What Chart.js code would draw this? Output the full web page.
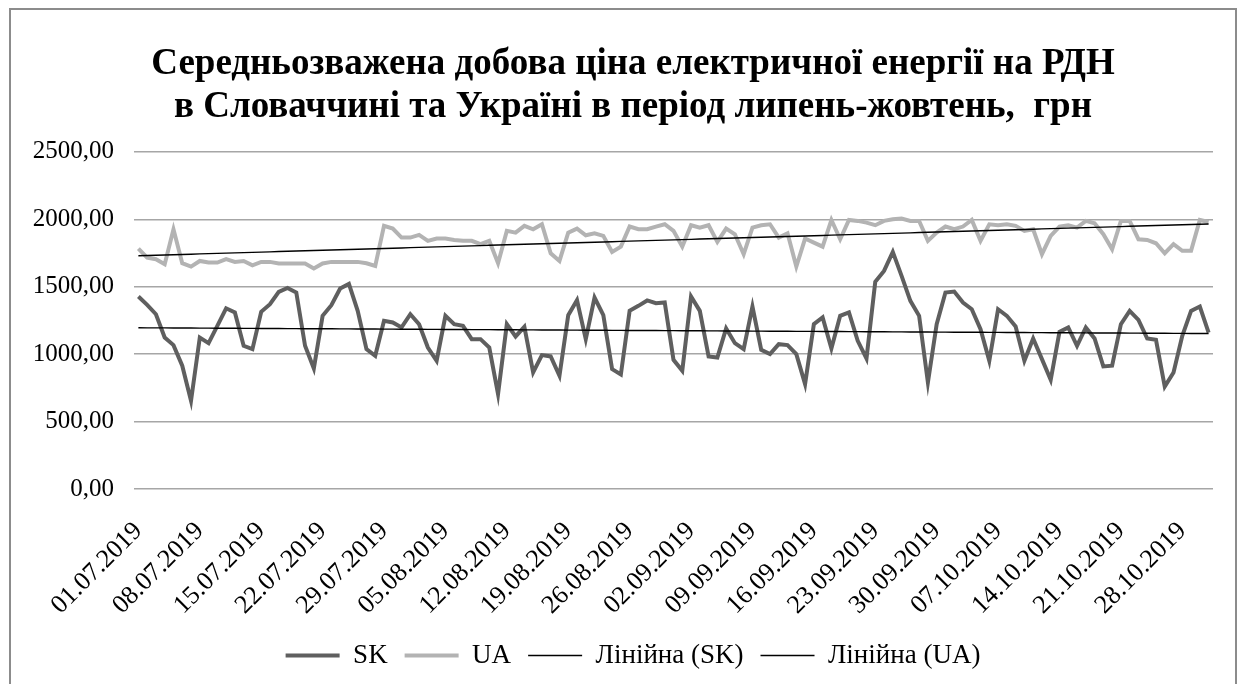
<!DOCTYPE html>
<html lang="uk">
<head>
<meta charset="utf-8">
<title>Середньозважена добова ціна електричної енергії на РДН</title>
<script src="https://cdn.jsdelivr.net/npm/chart.js@4.4.1/dist/chart.umd.min.js"></script>
<style>
  html, body { margin: 0; padding: 0; background: #fff; }
  #wrap { position: relative; width: 1246px; height: 684px; overflow: hidden; }
  #frame {
    position: absolute; left: 9px; top: 8px; width: 1228px; height: 700px;
    border: 2px solid #8c8c8c; box-sizing: border-box; pointer-events: none;
  }
  canvas { position: absolute; left: 0; top: 0; }
</style>
</head>
<body>
<div id="wrap">
  <canvas id="priceChart" width="1246" height="684"></canvas>
  <div id="frame"></div>
</div>
<script>
// ===== DATA =====
const MONTHS = [['07', 31], ['08', 31], ['09', 30], ['10', 31]];
const TITLE = [
  'Середньозважена добова ціна електричної енергії на РДН',
  'в Словаччині та Україні в період липень-жовтень,  грн'
];

// SK, грн
const skValues = [
  1427, 1365, 1296, 1123, 1067, 914, 654, 1123, 1081, 1210, 1340, 1309, 1062, 1037, 1314, 1370,
  1462, 1491, 1457, 1062, 894, 1284, 1363, 1486, 1521, 1321, 1037, 988, 1247, 1235, 1198,
  1296, 1222, 1049, 951, 1284, 1222, 1210, 1111, 1111, 1049, 704, 1222, 1131, 1202, 864,
  993, 983, 840, 1289, 1400, 1111, 1420, 1289, 889, 849, 1321, 1358, 1398, 1378, 1383,
  958, 877, 1427, 1321, 983, 975, 1190, 1081, 1037, 1353, 1032, 1000, 1074, 1067, 1000, 778,
  1222, 1272, 1042, 1284, 1309, 1099, 968, 1536, 1617, 1758, 1580, 1395, 1284, 790,
  1222, 1457, 1464, 1383, 1333, 1185, 951, 1333, 1284, 1205, 951, 1116, 963, 810, 1165,
  1198, 1062, 1198, 1116, 909, 914, 1222, 1321, 1254, 1116, 1106, 760, 864, 1136, 1321, 1353, 1160
];

// UA, грн
const uaValues = [
  1783, 1716, 1704, 1667, 1926, 1674, 1649, 1691, 1679, 1679, 1704, 1684, 1691, 1659, 1684, 1684,
  1672, 1672, 1672, 1672, 1635, 1672, 1684, 1684, 1684, 1684, 1674, 1654, 1951, 1931, 1864,
  1864, 1884, 1840, 1857, 1857, 1847, 1840, 1840, 1815, 1840, 1674, 1914, 1901, 1951, 1926,
  1963, 1748, 1691, 1901, 1931, 1881, 1896, 1877, 1758, 1797, 1946, 1926, 1926, 1946, 1963,
  1914, 1797, 1956, 1938, 1956, 1832, 1931, 1889, 1741, 1938, 1956, 1963, 1864, 1896, 1649, 1857,
  1827, 1797, 1995, 1852, 1995, 1988, 1975, 1956, 1988, 2000, 2005, 1988, 1988, 1840,
  1901, 1946, 1926, 1946, 1995, 1840, 1963, 1956, 1963, 1951, 1914, 1926, 1741, 1877, 1946,
  1956, 1938, 1988, 1970, 1889, 1778, 1988, 1988, 1852, 1847, 1822, 1748, 1815, 1766, 1766, 1995, 1980
];

const yTicks = [0, 500, 1000, 1500, 2000, 2500];

// daily categories 01.07.2019 .. 31.10.2019
const dayLabels = [];
MONTHS.forEach(([m, n]) => {
  for (let d = 1; d <= n; d++) dayLabels.push(String(d).padStart(2, '0') + '.' + m + '.2019');
});

// least-squares trend, like Excel's "Лінійна" trendline
function linearTrend(vals) {
  const n = vals.length;
  let sx = 0, sy = 0, sxx = 0, sxy = 0;
  vals.forEach((y, i) => { sx += i; sy += y; sxx += i * i; sxy += i * y; });
  const b = (n * sxy - sx * sy) / (n * sxx - sx * sx);
  const a = (sy - b * sx) / n;
  return vals.map((_, i) => a + b * i);
}

const FONT = "'Liberation Serif', 'Times New Roman', serif";
const fmt = v => v.toFixed(2).replace('.', ',');

new Chart(document.getElementById('priceChart'), {
  type: 'line',
  data: {
    labels: dayLabels,
    datasets: [
      { label: 'SK', data: skValues, borderColor: '#5f5f5f', borderWidth: 4, pointRadius: 0, tension: 0, order: 3 },
      { label: 'UA', data: uaValues, borderColor: '#b3b3b3', borderWidth: 4, pointRadius: 0, tension: 0, order: 4 },
      { label: 'Лінійна (SK)', data: linearTrend(skValues), borderColor: '#000', borderWidth: 1.4, pointRadius: 0, order: 1 },
      { label: 'Лінійна (UA)', data: linearTrend(uaValues), borderColor: '#000', borderWidth: 1.4, pointRadius: 0, order: 2 },
    ]
  },
  options: {
    responsive: false,
    animation: false,
    layout: { padding: { left: 20, right: 0, top: 0, bottom: 5 } },
    plugins: {
      title: {
        display: true,
        text: TITLE,
        color: '#000',
        font: { family: FONT, size: 37, weight: 'bold', lineHeight: 1.16 },
        padding: { top: 43, bottom: 23 }
      },
      legend: {
        position: 'bottom',
        labels: {
          color: '#000',
          font: { family: FONT, size: 27 },
          usePointStyle: true,
          pointStyle: 'line',
          pointStyleWidth: 54,
          padding: 17,
          sort: (a, b) => a.datasetIndex - b.datasetIndex
        }
      },
      tooltip: { enabled: false }
    },
    scales: {
      y: {
        min: 0,
        max: 2500,
        afterBuildTicks: s => { s.ticks = yTicks.map(v => ({ value: v })); },
        afterFit: s => { s.width = 114; },
        ticks: { color: '#000', font: { family: FONT, size: 25 }, padding: 20, callback: v => fmt(v) },
        grid: { color: '#a6a6a6', lineWidth: 1.5, drawTicks: false },
        border: { display: false }
      },
      // empty strip on the right so the plot ends where the reference does
      yRight: {
        position: 'right',
        display: true,
        afterFit: s => { s.width = 33; },
        ticks: { display: false },
        grid: { display: false },
        border: { display: false }
      },
      x: {
        offset: true,
        afterFit: s => { s.height = 136; s.paddingRight = 0; },
        grid: { display: false },
        border: { display: false },
        ticks: {
          autoSkip: false,
          minRotation: 45,
          maxRotation: 45,
          padding: 19,
          color: '#000',
          font: { family: FONT, size: 26 },
          callback: function (val, idx) { return idx % 7 === 0 ? this.getLabelForValue(val) : ''; }
        }
      }
    }
  }
});
</script>
</body>
</html>
